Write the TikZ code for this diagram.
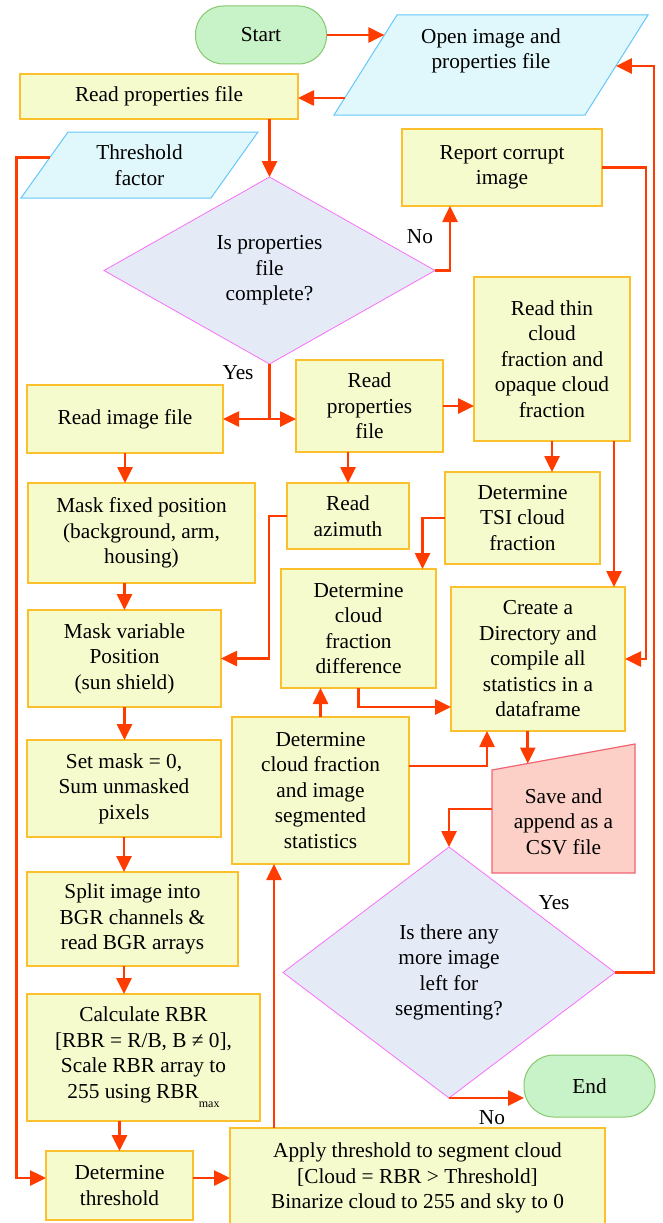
\documentclass[tikz,border=0pt]{standalone}
\usepackage{fontspec}
\setmainfont{Liberation Serif}
\usetikzlibrary{arrows.meta,calc,shapes.geometric,backgrounds}
\definecolor{procfill}{RGB}{246,251,206}
\definecolor{procline}{RGB}{252,192,45}
\definecolor{iofill}{RGB}{224,247,252}
\definecolor{ioline}{RGB}{100,200,250}
\definecolor{decfill}{RGB}{228,235,247}
\definecolor{decline}{RGB}{250,110,250}
\definecolor{termfill}{RGB}{200,242,200}
\definecolor{termline}{RGB}{135,200,110}
\definecolor{savefill}{RGB}{252,208,198}
\definecolor{saveline}{RGB}{240,100,115}
\definecolor{flowred}{RGB}{255,60,0}
\tikzset{
  proc/.style={rectangle, draw=procline, fill=procfill, line width=1.2pt, inner sep=0pt, outer sep=0pt, align=center},
  io/.style={rectangle, inner sep=0pt, outer sep=0pt, align=center},
  iobg/.style={draw=ioline, fill=iofill, line width=1pt},
  dec/.style={diamond, draw=decline, fill=decfill, line width=0.8pt, inner sep=0pt, outer sep=0pt, align=center},
  term/.style={rectangle, rounded corners=28pt, draw=termline, fill=termfill, line width=1pt, inner sep=0pt, outer sep=0pt, minimum width=131pt},
  flowline/.style={draw=flowred, line width=2.6pt},
  arr/.style={flowline, -{Triangle[length=16pt,width=15pt]}},
  dbl/.style={flowline, {Triangle[length=16pt,width=15pt]}-{Triangle[length=16pt,width=15pt]}},
  lbl/.style={inner sep=0pt, outer sep=0pt}
}
% parallelogram round a body node, half the slant given
\def\slantbox(#1)(#2){\draw[iobg] ([xshift=-#2]#1.south west) -- ([xshift=#2]#1.north west) -- ([xshift=#2]#1.north east) -- ([xshift=-#2]#1.south east) -- cycle;}

\begin{document}
\begin{tikzpicture}[x=1pt, y=-1pt, font=\fontsize{21.3}{25.5}\selectfont]
	%%%%% START %%%%%
	\useasboundingbox (0, 0) rectangle (662, 1223);

	% top row
	\node[term, minimum height=58pt] (start) at (261, 35) {Start};
	\node[io, minimum width=251pt, minimum height=100pt] (open) at (491, 65) {Open image and\\properties file\\\strut};
	\node[proc, minimum width=278pt, minimum height=45pt] (readprop) at (159, 96.5) {Read properties file};
	\node[io, minimum width=190pt, minimum height=66pt] (thr) at (139.5, 165) {Threshold\\factor};
	\node[proc, minimum width=200pt, minimum height=77pt] (report) at (502, 167.5) {Report corrupt\\image};
	\node[dec, aspect=1.77, minimum width=331pt, minimum height=187pt] (dec1) at (269.5, 270.5) {Is properties\\file\\complete?};

	% left column
	\node[proc, minimum width=196pt, minimum height=68pt] (readimg) at (125, 419) {Read image file};
	\node[proc, minimum width=227pt, minimum height=100pt] (maskfix) at (141.5, 533) {Mask fixed position\\(background, arm,\\housing)};
	\node[proc, minimum width=193pt, minimum height=97pt] (maskvar) at (124.5, 658.5) {Mask variable\\Position\\(sun shield)};
	\node[proc, minimum width=194pt, minimum height=97pt] (setmask) at (124, 788.5) {Set mask = 0,\\Sum unmasked\\pixels};
	\node[proc, minimum width=211pt, minimum height=94pt] (split) at (132.5, 919) {Split image into\\BGR channels \&\\read BGR arrays};
	\node[proc, minimum width=233pt, minimum height=127pt] (calc) at (143.5, 1057.5) {Calculate RBR\\{[RBR = R/B, B ≠ 0],}\\Scale RBR array to\\255 using RBR\raisebox{-0.45em}{\fontsize{12}{12}\selectfont max}};
	\node[proc, minimum width=147pt, minimum height=69pt] (detthr) at (119.5, 1185.5) {Determine\\threshold};

	% middle and right
	\node[proc, minimum width=147pt, minimum height=92pt] (readprop2) at (369.5, 406) {Read\\properties\\file};
	\node[proc, minimum width=156pt, minimum height=164pt] (readthin) at (552, 359) {Read thin\\cloud\\fraction and\\opaque cloud\\fraction};
	\node[proc, minimum width=122pt, minimum height=66pt] (readaz) at (348, 516) {Read\\azimuth};
	\node[proc, minimum width=155pt, minimum height=92pt] (tsi) at (522.5, 518) {Determine\\TSI cloud\\fraction};
	\node[proc, minimum width=155pt, minimum height=119pt] (cfdiff) at (358.5, 628.5) {Determine\\cloud\\fraction\\difference};
	\node[proc, minimum width=174pt, minimum height=144pt] (create) at (538, 659) {Create a\\Directory and\\compile all\\statistics in a\\dataframe};
	\node[proc, minimum width=177pt, minimum height=147pt] (stats) at (320.5, 790.5) {Determine\\cloud fraction\\and image\\segmented\\statistics};
	\node[lbl, minimum width=143pt, minimum height=103pt, align=center] (save) at (563.5, 821.5) {Save and\\append as a\\CSV file};
	\node[dec, aspect=1.32, minimum width=332pt, minimum height=251pt] (dec2) at (449, 972.5) {Is there any\\more image\\left for\\segmenting?};
	\node[term, minimum height=62pt, rounded corners=30pt] (end) at (589.5, 1086) {End};
	\node[proc, minimum width=375pt, minimum height=100pt] (apply) at (417.5, 1178) {Apply threshold to segment cloud\\{[Cloud = RBR > Threshold]}\\Binarize cloud to 255 and sky to 0};

	% slanted and manual input shapes behind their nodes
	\begin{scope}[on background layer]
		\slantbox(open)(31.5pt)
		\slantbox(thr)(23.5pt)
		\draw[draw=saveline, fill=savefill, line width=1.2pt] (save.south west) -- (save.north west) -- ([yshift=26pt]save.north east) -- (save.south east) -- cycle;
	\end{scope}

	% branch labels
	\node[lbl] (no1) at (420, 237) {No};
	\node[lbl] (yes1) at (238, 373) {Yes};
	\node[lbl] (yes2) at (554, 903) {Yes};
	\node[lbl] (no2) at (492, 1118) {No};

	% points on slanted edges
	\coordinate (openL1) at ($([xshift=31.5pt]open.north west)!0.2!([xshift=-31.5pt]open.south west)$);
	\coordinate (openL2) at ($([xshift=31.5pt]open.north west)!0.83!([xshift=-31.5pt]open.south west)$);
	\coordinate (openR) at ($([xshift=31.5pt]open.north east)!0.51!([xshift=-31.5pt]open.south east)$);
	\coordinate (thrL) at ($([xshift=23.5pt]thr.north west)!0.39!([xshift=-23.5pt]thr.south west)$);
	\coordinate (savein) at ($(save.north west)!0.25!([yshift=26pt]save.north east)$);

	% connectors
	\draw[arr] (start.east) -- (start.east -| openL1);
	\draw[arr] (openL2) -- (openL2 -| readprop.east);
	\draw[arr] (readprop.south -| dec1.north) -- (dec1.north);
	\draw[arr] (dec1.east) -| ([xshift=-52pt]report.south);
	\draw[flowline] (dec1.south) -- (dec1.south |- readimg.east);
	\draw[dbl] (readimg.east) -- (readimg.east -| readprop2.west);
	\draw[arr] (readprop2.east) -- (readprop2.east -| readthin.west);
	\draw[arr] (readimg.south) -- (readimg.south |- maskfix.north);
	\draw[arr] (maskfix.south -| maskvar.north) -- (maskvar.north);
	\draw[arr] (maskvar.south) -- (maskvar.south |- setmask.north);
	\draw[arr] (setmask.south) -- (setmask.south |- split.north);
	\draw[arr] (split.south -| setmask.south) -- (calc.north -| setmask.south);
	\draw[arr] (calc.south -| detthr.north) -- (detthr.north);
	\draw[arr] (detthr.east |- apply.west) -- (apply.west);
	\draw[arr] (thrL) -- ++(-33, 0) |- (detthr.west |- apply.west);
	\draw[arr] (readprop2.south -| readaz.north) -- (readaz.north);
	\draw[arr] (readaz.west) -- ++(-18, 0) |- (maskvar.east);
	\draw[arr] (readthin.south) -- (readthin.south |- tsi.north);
	\draw[arr] ([xshift=62pt]readthin.south) -- ([xshift=62pt]readthin.south |- create.north);
	\draw[arr] (tsi.west) -| ([xshift=64pt]cfdiff.north);
	\draw[arr] (report.east) -- ++(44, 0) |- (create.east);
	\draw[arr] (cfdiff.south) |- ([yshift=-48pt]create.west);
	\draw[arr] (stats.north) -- (stats.north |- cfdiff.south);
	\draw[arr] ([yshift=24.5pt]stats.east) -| ([xshift=-51pt]create.south);
	\draw[arr] (create.south -| savein) -- (savein);
	\draw[arr] ([yshift=12.5pt]save.west) -| (dec2.north);
	\draw[arr] (dec2.east) -- ++(39, 0) |- (openR);
	\draw[arr] (dec2.south) -- (dec2.south -| end.west);
	\draw[arr] ([xshift=-143.5pt]apply.north) -- ([xshift=-143.5pt]apply.north |- stats.south);
	%%%%% END %%%%%
\end{tikzpicture}
\end{document}
